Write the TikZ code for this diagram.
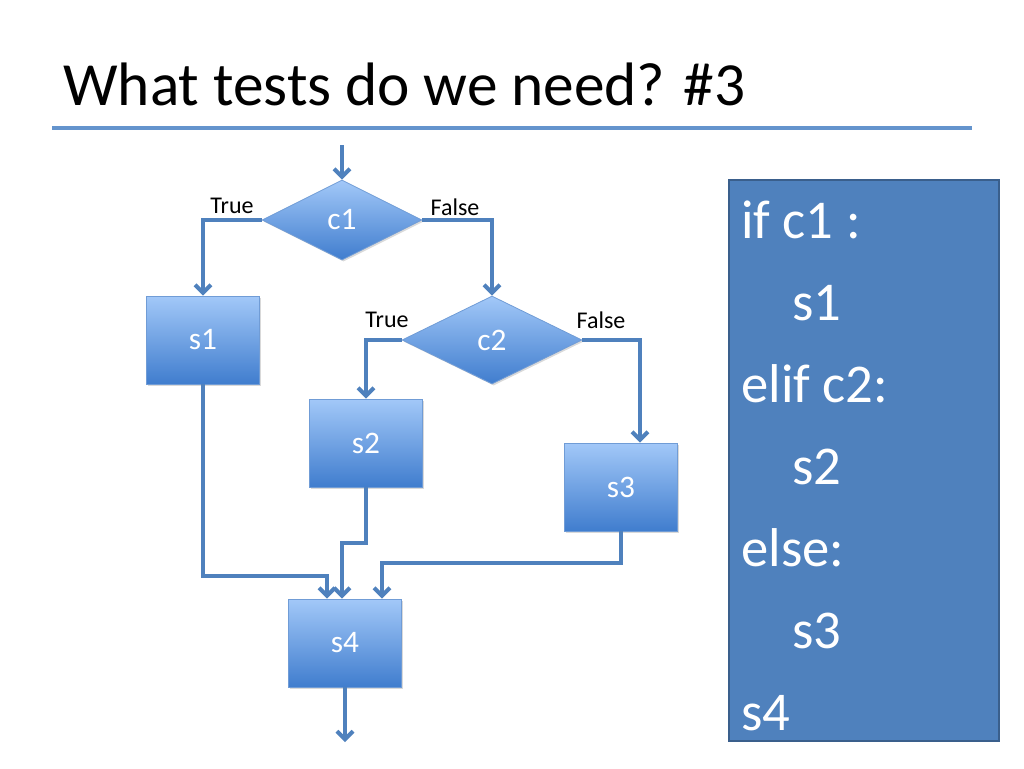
\documentclass[tikz,border=0pt]{standalone}
\usepackage{fontspec}
\setmainfont{Carlito}
\usetikzlibrary{shapes.geometric,arrows.meta,calc,shadows}

\definecolor{flowblue}{RGB}{79,129,189}
\definecolor{boxtop}{RGB}{162,200,248}
\definecolor{boxbot}{RGB}{64,125,206}
\definecolor{boxline}{RGB}{112,156,214}
\definecolor{codeedge}{RGB}{58,95,140}
\definecolor{rulecol}{RGB}{100,148,205}

\tikzset{
  flow/.style={draw=flowblue,line width=3pt,-{Straight Barb[length=6pt,width=12pt]}},
  stmt/.style={rectangle,draw=boxline,line width=0.6pt,top color=boxtop,bottom color=boxbot,
    text=white,minimum width=84.75pt,minimum height=66pt,inner sep=0pt,
    font=\fontsize{23.5}{28}\selectfont,
    drop shadow={opacity=0.3,shadow xshift=1.2pt,shadow yshift=-1.2pt}},
  cond/.style={diamond,draw=boxline,line width=0.6pt,top color=boxtop,bottom color=boxbot,
    text=white,inner sep=0pt,font=\fontsize{23.5}{28}\selectfont,
    drop shadow={opacity=0.3,shadow xshift=1.2pt,shadow yshift=-1.2pt}},
  lbl/.style={font=\fontsize{18}{22}\selectfont},
  codetext/.style={anchor=base west,text=white,inner sep=0pt,font=\fontsize{41}{49}\selectfont}
}

\begin{document}
\begin{tikzpicture}[x=0.75pt,y=-0.75pt]
  \useasboundingbox (0,0) rectangle (1024,768);

  % title
  \node[anchor=base west,inner sep=0pt,font=\fontsize{46}{55}\selectfont] (title) at (63,105) {What tests do we need? \#3};
  \draw[rulecol,line width=3pt] (52,128) -- (972,128);

  % flow chart
  \node[cond,minimum width=120pt,minimum height=60pt] (c1) at (342,220) {c1};
  \node[cond,minimum width=135pt,minimum height=66pt] (c2) at (492,340) {c2};
  \node[stmt] (s1) at (203,340) {s1};
  \node[stmt] (s2) at (366,443) {s2};
  \node[stmt] (s3) at (621,487) {s3};
  \node[stmt] (s4) at (345,643) {s4};

  \node[lbl] (t1) at (232,206) {True};
  \node[lbl] (f1) at (455,207) {False};
  \node[lbl] (t2) at (387,320) {True};
  \node[lbl] (f2) at (601,320) {False};

  \coordinate (start) at (342,145);
  \coordinate (finish) at (345,742);

  \draw[flow] (start) -- (c1.north);
  \draw[flow] (c1.west) -| (s1.north);
  \draw[flow] (c1.east) -| (c2.north);
  \draw[flow] (c2.west) -| (s2.north);
  \draw[flow] (c2.east) -| ($(s3.north)+(19,0)$);
  \draw[flow] (s1.south) |- ($(s4.north)+(-18,-23)$) -- ($(s4.north)+(-18,0)$);
  \draw[flow] (s2.south) |- ($(s4.north)+(-3,-56)$) -- ($(s4.north)+(-3,0)$);
  \draw[flow] (s3.south) |- ($(s4.north)+(37,-36)$) -- ($(s4.north)+(37,0)$);
  \draw[flow] (s4.south) -- (finish);

  % code
  \draw[fill=flowblue,draw=codeedge,line width=1.5pt] (729,180) rectangle (999,741);
  \foreach \txt/\xx [count=\i] in {if c1 :/741, s1/792, elif c2:/741, s2/792, else:/741, s3/792, s4/741}
    \node[codetext] (line\i) at (\xx,156+82*\i) {\txt};
\end{tikzpicture}
\end{document}
